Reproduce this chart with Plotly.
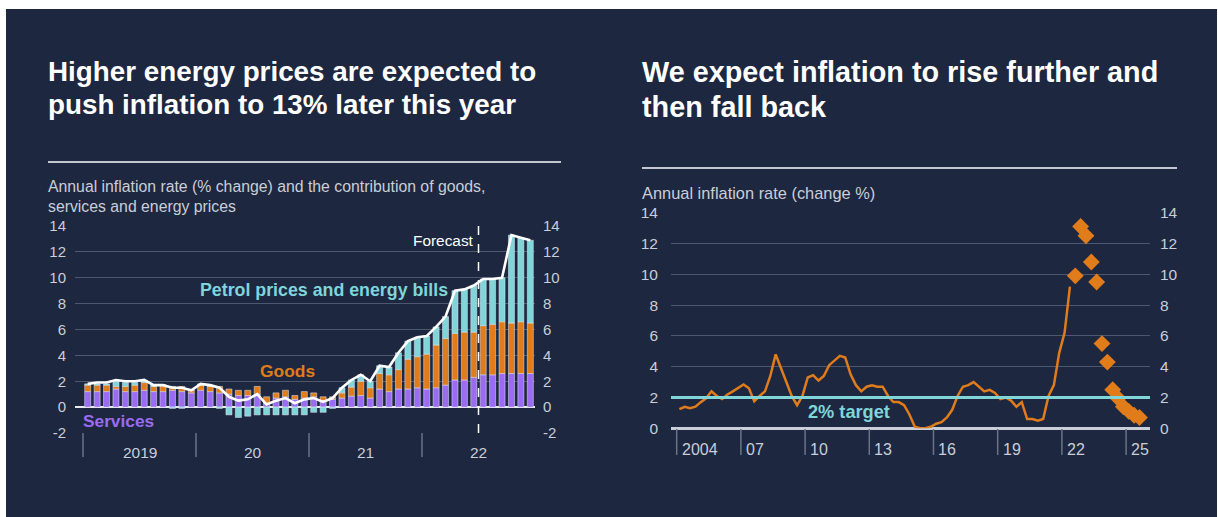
import plotly.graph_objects as go

# ---------------- data: left panel (monthly contributions, pp) ----------------
months = [f"{y}-{m:02d}" for y in (2019, 2020, 2021, 2022) for m in range(1, 13)]
services = [1.2, 1.2, 1.2, 1.4, 1.2, 1.2, 1.3, 1.2, 1.2, 1.3, 1.2, 1.1,
            1.3, 1.2, 1.1, 1.0, 0.9, 0.9, 1.0, 0.3, 0.7, 0.8, 0.6, 0.7,
            0.8, 0.5, 0.6, 0.7, 0.85, 0.9, 0.7, 1.4, 1.2, 1.4, 1.4, 1.5,
            1.4, 1.5, 1.7, 2.1, 2.1, 2.3, 2.5, 2.5, 2.6, 2.6, 2.6, 2.6]
goods = [0.5, 0.5, 0.5, 0.2, 0.4, 0.5, 0.6, 0.4, 0.5, 0.3, 0.4, 0.2,
         0.4, 0.4, 0.5, 0.4, 0.4, 0.4, 0.6, 0.5, 0.4, 0.5, 0.3, 0.5,
         0.3, 0.3, 0.2, 0.4, 0.7, 1.1, 0.8, 1.2, 1.3, 1.5, 2.3, 2.4,
         2.7, 3.3, 3.6, 3.6, 3.7, 3.5, 3.8, 3.9, 4.0, 3.9, 4.0, 3.9]
energy = [0.1, 0.1, 0.1, 0.4, 0.3, 0.2, 0.1, 0.1, 0.0, -0.1, -0.1, 0.0,
          0.1, 0.1, -0.1, -0.6, -0.8, -0.7, -0.6, -0.6, -0.6, -0.6, -0.6, -0.6,
          -0.4, -0.4, -0.1, 0.4, 0.55, 0.5, 0.5, 0.6, 0.6, 1.3, 1.4, 1.5,
          1.4, 1.4, 1.7, 3.3, 3.3, 3.6, 3.6, 3.5, 3.4, 6.8, 6.5, 6.4]
cpi_monthly = [1.8, 1.9, 1.9, 2.1, 2.0, 2.0, 2.1, 1.7, 1.7, 1.5, 1.5, 1.3,
               1.8, 1.7, 1.5, 0.8, 0.5, 0.6, 1.0, 0.2, 0.5, 0.7, 0.3, 0.6,
               0.7, 0.4, 0.7, 1.5, 2.1, 2.5, 2.0, 3.2, 3.1, 4.2, 5.1, 5.4,
               5.5, 6.2, 7.0, 9.0, 9.1, 9.4, 9.9, 9.9, 10.0, 13.3, 13.1, 12.9]
left_years = ["2019", "20", "21", "22"]
left_yticks = [-2, 0, 2, 4, 6, 8, 10, 12, 14]

# ---------------- data: right panel (quarterly CPI, %) ----------------
hist_quarters = [f"{y}Q{q}" for y in range(2004, 2023) for q in range(1, 5)][:74]
cpi_quarterly = [1.25, 1.4, 1.3, 1.4, 1.7, 1.95, 2.4, 2.1, 1.9, 2.2, 2.4, 2.65,
                 2.85, 2.6, 1.75, 2.1, 2.4, 3.4, 4.8, 3.9, 3.0, 2.1, 1.5, 2.1,
                 3.3, 3.45, 3.1, 3.4, 4.1, 4.4, 4.7, 4.6, 3.5, 2.8, 2.4, 2.7,
                 2.8, 2.7, 2.7, 2.1, 1.7, 1.7, 1.5, 0.9, 0.1, 0.0, 0.0, 0.1,
                 0.3, 0.4, 0.7, 1.2, 2.1, 2.7, 2.8, 3.0, 2.7, 2.4, 2.5, 2.3,
                 1.9, 2.0, 1.8, 1.4, 1.7, 0.6, 0.6, 0.5, 0.6, 2.1, 2.8, 4.9,
                 6.2, 9.2]
fc_quarters = ["2022Q3", "2022Q4", "2023Q1", "2023Q2", "2023Q3", "2023Q4", "2024Q1",
               "2024Q2", "2024Q3", "2024Q4", "2025Q1", "2025Q2", "2025Q3"]
cpi_forecast = [9.9, 13.1, 12.5, 10.8, 9.5, 5.5, 4.3, 2.5, 1.95, 1.4, 1.1, 0.85, 0.7]
right_years = [2004, 2007, 2010, 2013, 2016, 2019, 2022, 2025]
right_year_labels = ["2004", "07", "10", "13", "16", "19", "22", "25"]
right_yticks = [0, 2, 4, 6, 8, 10, 12, 14]
target = 2.0

# ---------------- styling ----------------
W, H = 1218, 517
BG = "#1d2740"
GRID = "#4e586d"
TICK = "#c9ced8"
PURPLE = "#9b6cf2"
ORANGE = "#e07c1a"
CYAN = "#7fd5d8"
FONT = "Liberation Sans, Arial, sans-serif"


def px(x):
    return x / W


def py(y):
    return 1 - y / H


def qpos(q):
    return int(q[:4]) + (int(q[-1]) - 0.5) / 4


xm = list(range(len(months)))
fig = go.Figure()

# left panel: stacked contributions + headline line
fig.add_bar(x=xm, y=services, marker_color=PURPLE, name="Services", xaxis="x", yaxis="y")
fig.add_bar(x=xm, y=goods, marker_color=ORANGE, name="Goods", xaxis="x", yaxis="y")
fig.add_bar(x=xm, y=energy, marker_color=CYAN, name="Petrol prices and energy bills",
            xaxis="x", yaxis="y")
fig.add_scatter(x=xm, y=cpi_monthly, mode="lines", line=dict(color="white", width=2.6),
                xaxis="x", yaxis="y", name="CPI")
fig.add_scatter(x=[0], y=[0], mode="markers", marker=dict(opacity=0), xaxis="x", yaxis="y2",
                hoverinfo="skip")

# right panel: history line + forecast diamonds
fig.add_scatter(x=[qpos(q) for q in hist_quarters], y=cpi_quarterly, mode="lines",
                line=dict(color=ORANGE, width=2.5), xaxis="x2", yaxis="y3", name="CPI")
fig.add_scatter(x=[qpos(q) for q in fc_quarters], y=cpi_forecast, mode="markers",
                marker=dict(symbol="diamond", size=13, color=ORANGE), xaxis="x2", yaxis="y3",
                name="Forecast")
fig.add_scatter(x=[2004], y=[0], mode="markers", marker=dict(opacity=0), xaxis="x2", yaxis="y4",
                hoverinfo="skip")

# axis geometry
lx0, lx1 = 75, 535
l_range = [-1.35, 47.5]
ly_top, ly_bot = 226, 433
rx0, rx1 = 671, 1150
r_range = [2003.734, 2026.117]
ry_top, ry_bot = 212.7, 428.3

ltick = dict(family=FONT, size=15, color=TICK)
rtick = dict(family=FONT, size=15.5, color=TICK)
yl_common = dict(range=[-2, 14], tickvals=left_yticks, ticktext=[str(v) for v in left_yticks],
                 tickfont=ltick, domain=[py(ly_bot), py(ly_top)], fixedrange=True)
yr_common = dict(range=[0, 14], tickvals=right_yticks, ticktext=[str(v) for v in right_yticks],
                 tickfont=rtick, domain=[py(ry_bot), py(ry_top)], fixedrange=True)

fig.update_layout(
    width=W, height=H, margin=dict(l=0, r=0, t=0, b=0, autoexpand=False),
    paper_bgcolor="white", plot_bgcolor=BG,
    barmode="relative", bargap=0.36, showlegend=False,
    font=dict(family=FONT, color="white"),
    xaxis=dict(domain=[px(lx0), px(lx1)], range=l_range, showgrid=False, zeroline=False,
               showticklabels=False, ticks="", anchor="y"),
    yaxis=dict(**yl_common, anchor="x", side="left", showgrid=True, gridcolor=GRID,
               gridwidth=1.2, zeroline=True, zerolinecolor="#e8eaee", zerolinewidth=2,
               ticklabelstandoff=8),
    yaxis2=dict(**yl_common, anchor="x", overlaying="y", side="right", showgrid=False,
                zeroline=False, ticklabelstandoff=7),
    xaxis2=dict(domain=[px(rx0), px(rx1)], range=r_range, showgrid=False, zeroline=False,
                showticklabels=False, ticks="", anchor="y3"),
    yaxis3=dict(**yr_common, anchor="x2", side="left", showgrid=True, gridcolor=GRID,
                gridwidth=1.2, zeroline=True, zerolinecolor="#c9ced8", zerolinewidth=2.5,
                ticklabelstandoff=12),
    yaxis4=dict(**yr_common, anchor="x2", overlaying="y3", side="right", showgrid=False,
                zeroline=False, ticklabelstandoff=9),
)

shapes = [
    # dark card behind everything
    dict(type="rect", xref="paper", yref="paper", x0=px(6), x1=px(1217), y0=0, y1=py(9),
         fillcolor=BG, line=dict(width=0), layer="below"),
    # rules under the titles
    dict(type="line", xref="paper", yref="paper", x0=px(48), x1=px(561), y0=py(162), y1=py(162),
         line=dict(color="#c3c7cf", width=2)),
    dict(type="line", xref="paper", yref="paper", x0=px(642), x1=px(1177), y0=py(168), y1=py(168),
         line=dict(color="#c3c7cf", width=2)),
    # forecast marker in left panel
    dict(type="line", xref="x", yref="y", x0=41.5, x1=41.5, y0=-2, y1=14,
         line=dict(color="white", width=1.5, dash="dash")),
    # 2% target line
    dict(type="line", xref="x2", yref="y3", x0=r_range[0], x1=r_range[1], y0=target, y1=target,
         line=dict(color=CYAN, width=3)),
]

annotations = []
# left panel year separators and labels
for k, lab in enumerate(left_years):
    xb = -0.5 + 12 * k
    shapes.append(dict(type="line", xref="x", yref="paper", x0=xb, x1=xb,
                       y0=py(433), y1=py(457), line=dict(color="#6b7386", width=1.5)))
    annotations.append(dict(x=xb + 6, y=py(452), xref="x", yref="paper", text=lab,
                            yanchor="middle", showarrow=False,
                            font=dict(family=FONT, size=15.5, color=TICK)))
# right panel year ticks and labels
for yr, lab in zip(right_years, right_year_labels):
    shapes.append(dict(type="line", xref="x2", yref="paper", x0=yr, x1=yr,
                       y0=py(429), y1=py(455), line=dict(color="#6b7386", width=1.5)))
    annotations.append(dict(x=yr, y=py(449), xref="x2", yref="paper", text=lab, xanchor="left",
                            yanchor="middle", xshift=3, showarrow=False,
                            font=dict(family=FONT, size=16, color=TICK)))

# titles and subtitles
annotations += [
    dict(x=px(46), y=py(71), xref="paper", yref="paper", xanchor="left", yanchor="middle",
         showarrow=False, text="<b>Higher energy prices are expected to</b>",
         font=dict(family=FONT, size=27.8, color="white")),
    dict(x=px(46), y=py(105), xref="paper", yref="paper", xanchor="left", yanchor="middle",
         showarrow=False, text="<b>push inflation to 13% later this year</b>",
         font=dict(family=FONT, size=27.8, color="white")),
    dict(x=px(640), y=py(72), xref="paper", yref="paper", xanchor="left", yanchor="middle",
         showarrow=False, text="<b>We expect inflation to rise further and</b>",
         font=dict(family=FONT, size=28.8, color="white")),
    dict(x=px(640), y=py(107), xref="paper", yref="paper", xanchor="left", yanchor="middle",
         showarrow=False, text="<b>then fall back</b>",
         font=dict(family=FONT, size=28.8, color="white")),
    dict(x=px(46), y=py(186), xref="paper", yref="paper", xanchor="left", yanchor="middle",
         showarrow=False, text="Annual inflation rate (% change) and the contribution of goods,",
         font=dict(family=FONT, size=15.8, color=TICK)),
    dict(x=px(46), y=py(206), xref="paper", yref="paper", xanchor="left", yanchor="middle",
         showarrow=False, text="services and energy prices",
         font=dict(family=FONT, size=15.8, color=TICK)),
    dict(x=px(640), y=py(193), xref="paper", yref="paper", xanchor="left", yanchor="middle",
         showarrow=False, text="Annual inflation rate (change %)",
         font=dict(family=FONT, size=16.4, color=TICK)),
    # series labels, left panel
    dict(x=11.7, y=9.05, xref="x", yref="y", xanchor="left", yanchor="middle", showarrow=False,
         text="<b>Petrol prices and energy bills</b>", font=dict(family=FONT, size=17.8, color=CYAN)),
    dict(x=18.1, y=2.8, xref="x", yref="y", xanchor="left", yanchor="middle", showarrow=False,
         text="<b>Goods</b>", font=dict(family=FONT, size=17.4, color=ORANGE)),
    dict(x=-0.75, y=-1.08, xref="x", yref="y", xanchor="left", yanchor="middle", showarrow=False,
         text="<b>Services</b>", font=dict(family=FONT, size=17.3, color=PURPLE)),
    dict(x=41.2, y=12.9, xref="x", yref="y", xanchor="right", yanchor="middle", showarrow=False,
         text="Forecast", font=dict(family=FONT, size=15.4, color="white")),
    # labels, right panel
    dict(x=2010.05, y=1.06, xref="x2", yref="y3", xanchor="left", yanchor="middle",
         showarrow=False, text="<b>2% target</b>", font=dict(family=FONT, size=18.2, color=CYAN)),
    dict(x=2026.17, y=7.03, xref="x2", yref="y3", xanchor="right", yanchor="middle",
         showarrow=False, text="<b>Forecast</b>", font=dict(family=FONT, size=18, color=ORANGE)),
]

fig.update_layout(shapes=shapes, annotations=annotations)
fig.write_html("out.html")
